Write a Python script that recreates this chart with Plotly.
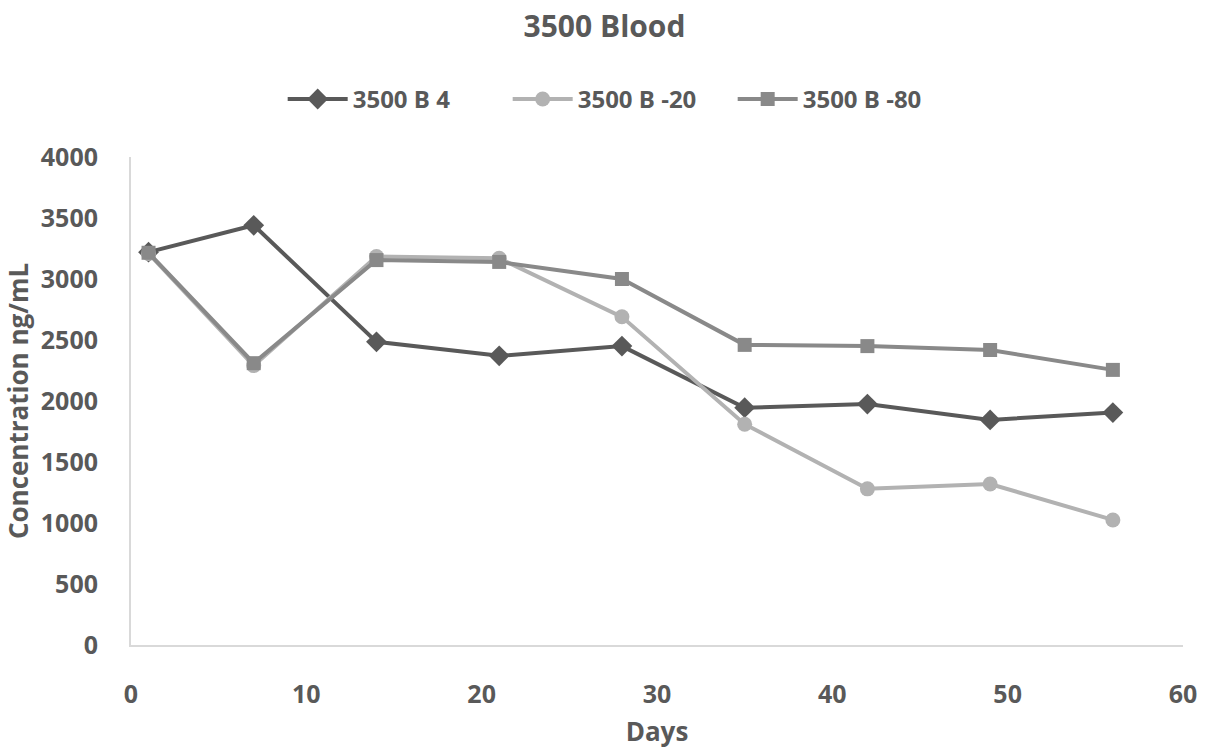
import plotly.graph_objects as go

days = [1, 7, 14, 21, 28, 35, 42, 49, 56]
b4 = [3220, 3440, 2485, 2370, 2450, 1945, 1975, 1845, 1905]
b20 = [3210, 2290, 3185, 3170, 2690, 1810, 1280, 1320, 1025]
b80 = [3215, 2310, 3155, 3140, 3000, 2460, 2450, 2418, 2255]
names = ["3500 B 4", "3500 B -20", "3500 B -80"]

font = "Open Sans"
fig = go.Figure()
fig.add_trace(go.Scatter(x=days, y=b4, name="<b>" + names[0] + "</b>", mode="lines+markers",
                         line=dict(color="#595959", width=4),
                         marker=dict(symbol="diamond", size=16, color="#595959")))
fig.add_trace(go.Scatter(x=days, y=b20, name="<b>" + names[1] + "</b>", mode="lines+markers",
                         line=dict(color="#b2b2b2", width=4),
                         marker=dict(symbol="circle", size=15, color="#b2b2b2")))
fig.add_trace(go.Scatter(x=days, y=b80, name="<b>" + names[2] + "</b>", mode="lines+markers",
                         line=dict(color="#898989", width=4),
                         marker=dict(symbol="square", size=14, color="#898989")))

fig.update_layout(
    width=1209, height=749,
    margin=dict(l=131, r=26, t=157, b=104),
    paper_bgcolor="white", plot_bgcolor="white",
    font=dict(family=font, color="#595959", size=24),
    title=dict(text="<b>3500 Blood</b>", x=0.5, xanchor="center", y=0.964, yanchor="middle",
               font=dict(size=30, color="#595959")),
    legend=dict(orientation="h", x=0.465, xanchor="center", y=1.118, yanchor="middle",
                font=dict(size=24, color="#595959"), itemwidth=60, entrywidth=150),
    showlegend=True,
)
fig.update_xaxes(range=[0, 60], dtick=10, showgrid=False, zeroline=False,
                 showline=True, linecolor="#d9d9d9", linewidth=2, automargin=False,
                 ticks="", tickfont=dict(size=25, family=font), ticklabelstandoff=26,
                 title=dict(text="<b>Days</b>", font=dict(size=26), standoff=16),
                 tickprefix="<b>", ticksuffix="</b>")
fig.update_yaxes(range=[0, 4000], dtick=500, showgrid=False, zeroline=False,
                 showline=True, linecolor="#d9d9d9", linewidth=2, automargin=False,
                 ticks="", tickfont=dict(size=25, family=font), ticklabelstandoff=26,
                 title=dict(text="<b>Concentration ng/mL</b>", font=dict(size=26), standoff=8),
                 tickprefix="<b>", ticksuffix="</b>")
fig.write_html("out.html")
